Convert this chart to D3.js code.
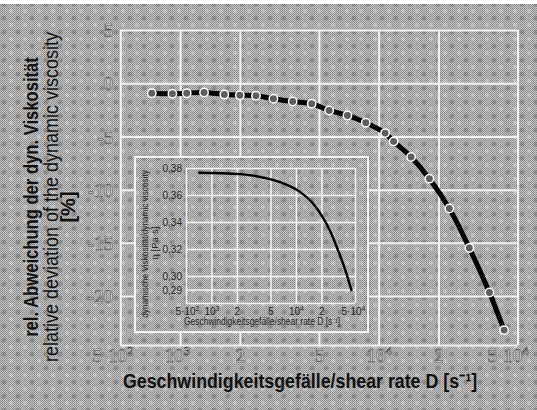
<!DOCTYPE html>
<html><head><meta charset="utf-8">
<script src="https://cdn.jsdelivr.net/npm/d3@7"></script>
<style>html,body{margin:0;padding:0;background:#fff}svg{display:block}</style>
</head><body>
<script>
// ---- data ----
const mainD   = [720, 915, 1080, 1320, 1670, 2000, 2410, 2950, 3690, 4600, 5630, 6960, 8610, 10770, 11890, 14560, 18000, 22700, 28600, 36100, 42800];
const mainDev = [-0.94, -0.99, -0.94, -0.87, -1.06, -1.13, -1.18, -1.46, -1.72, -1.93, -2.56, -3.03, -3.71, -4.69, -5.47, -6.94, -8.97, -11.78, -15.48, -19.66, -23.2];
const insetD   = [700, 2180, 4510, 7080, 11170, 15370, 20190, 25300, 31700, 38100, 45700];
const insetEta = [0.3765, 0.3755, 0.3723, 0.3686, 0.3623, 0.3548, 0.3448, 0.3336, 0.3187, 0.305, 0.2888];
const xTicks   = [500, 1000, 2000, 5000, 10000, 20000, 50000];
const xTickBase = ["5·10", "10", "2", "5", "10", "2", "5·10"];
const xTickSup  = ["2", "3", "", "", "4", "", "4"];
const yTicks   = [5, 0, -5, -10, -15, -20];
const yTickLabels = ["5", "0", "-5", "-10", "-15", "-20"];
const insetYTicks = [0.38, 0.36, 0.34, 0.32, 0.30, 0.29];
const insetYLabels = ["0,38", "0,36", "0,34", "0,32", "0,30", "0,29"];

const W = 537, H = 410;
const svg = d3.select("body").append("svg").attr("width", W).attr("height", H);
const defs = svg.append("defs");

// halftone-like texture
const chk = defs.append("pattern").attr("id", "chk").attr("patternUnits", "userSpaceOnUse")
  .attr("width", 2).attr("height", 2);
chk.append("rect").attr("width", 2).attr("height", 2).attr("fill", "#c4c4c4");
chk.append("rect").attr("width", 1).attr("height", 1).attr("fill", "#878787");
chk.append("rect").attr("x", 1).attr("y", 1).attr("width", 1).attr("height", 1).attr("fill", "#989898");
const blob = defs.append("pattern").attr("id", "blob").attr("patternUnits", "userSpaceOnUse")
  .attr("width", 14).attr("height", 14);
blob.append("circle").attr("cx", 4).attr("cy", 4).attr("r", 2.6).attr("fill", "#555").attr("opacity", 0.35);
blob.append("circle").attr("cx", 11).attr("cy", 11).attr("r", 2.2).attr("fill", "#fff").attr("opacity", 0.25);

function texRect(g, x, y, w, h) {
  g.append("rect").attr("x", x).attr("y", y).attr("width", w).attr("height", h).attr("fill", "url(#chk)");
  g.append("rect").attr("x", x).attr("y", y).attr("width", w).attr("height", h).attr("fill", "url(#blob)");
}
texRect(svg, 0, 0, W, H);
svg.append("rect").attr("x", 0).attr("y", 0).attr("width", W).attr("height", 4).attr("fill", "#fff");

// fit a text horizontally (in its own frame) to a target length by scaling
function fitText(sel, tx, ty, rot, target, anchorMid) {
  const len = sel.node().getComputedTextLength();
  const s = target / len;
  sel.attr("transform", `translate(${tx},${ty}) rotate(${rot}) scale(${s},1)`);
}

// ---- main scales ----
const x = d3.scaleLog().domain([500, 50000]).range([120.3, 517.5]);
const y = d3.scaleLinear().domain([5, -24.6]).range([30, 345]);
const gridCol = "#f2f2f2";

svg.append("g").attr("transform", `translate(0,${y(-24.6)})`)
  .call(d3.axisBottom(x).tickValues(xTicks).tickSize(-(y(-24.6) - y(5))).tickFormat(() => ""))
  .call(g => g.select(".domain").remove())
  .call(g => g.selectAll("line").attr("stroke", gridCol).attr("stroke-width", 2));
svg.append("g").attr("transform", `translate(${x(500)},0)`)
  .call(d3.axisLeft(y).tickValues(yTicks.concat([-24.6])).tickSize(-(x(50000) - x(500))).tickFormat(() => ""))
  .call(g => g.select(".domain").remove())
  .call(g => g.selectAll("line").attr("stroke", gridCol).attr("stroke-width", 2));

// tick labels
const lblStyle = s => s.attr("fill", "#e4e4e4").attr("stroke", "#444").attr("stroke-width", 0.55)
  .attr("font-family", "Liberation Serif, DejaVu Serif, serif").attr("font-size", 19);

const xAx = svg.append("g").attr("transform", `translate(0,362)`)
  .call(d3.axisBottom(x).tickValues(xTicks).tickSize(0).tickFormat(() => ""));
xAx.select(".domain").remove();
xAx.selectAll(".tick text").remove();
xAx.selectAll(".tick").each(function(d, i) {
  const t = d3.select(this).append("text").attr("text-anchor", "middle").attr("y", 0)
    .attr("dx", i === 0 ? -8 : (i === xTicks.length - 1 ? -10 : (i === 1 ? -3 : 0)))
    .call(lblStyle);
  t.append("tspan").text(xTickBase[i]);
  if (xTickSup[i]) t.append("tspan").attr("dy", -7).attr("font-size", 13).text(xTickSup[i]);
});

const yAx = svg.append("g").attr("transform", `translate(113,0)`)
  .call(d3.axisLeft(y).tickValues(yTicks).tickSize(0).tickFormat((d, i) => yTickLabels[i]));
yAx.select(".domain").remove();
yAx.selectAll(".tick text").attr("x", 0).attr("dy", "0.35em").attr("text-anchor", "end").call(lblStyle);

// axis titles
const xt = svg.append("text")
  .attr("font-family", "Liberation Sans Narrow, Liberation Sans, Arial, sans-serif")
  .attr("font-weight", "bold").attr("font-size", 21).attr("fill", "#111")
  .text("Geschwindigkeitsgefälle/shear rate D [s⁻¹]");
fitText(xt, 123, 388, 0, 354);

const yt = svg.append("g").attr("font-family", "Liberation Sans, Arial, sans-serif").attr("fill", "#111")
  .attr("font-size", 20).attr("text-anchor", "middle");
const yt1 = yt.append("text").attr("font-weight", "bold").text("rel. Abweichung der dyn. Viskosität");
fitText(yt1, 38, 197, -90, 280);
const yt2 = yt.append("text").text("relative deviation of the dynamic viscosity");
fitText(yt2, 58, 197, -90, 330);
yt.append("text").attr("transform", "translate(75,207) rotate(-90)").attr("font-weight", "bold").text("[%]");

// ---- inset ----
const ins = svg.append("g");
texRect(ins, 135, 157, 233, 175);
ins.append("rect").attr("x", 135).attr("y", 157).attr("width", 233).attr("height", 175)
  .attr("fill", "none").attr("stroke", gridCol).attr("stroke-width", 2);

const xi = d3.scaleLog().domain([500, 50000]).range([186, 355]);
const yi = d3.scaleLinear().domain([0.28, 0.38]).range([303, 168]);

ins.append("g").attr("transform", `translate(0,${yi(0.28)})`)
  .call(d3.axisBottom(xi).tickValues(xTicks).tickSize(-(yi(0.28) - yi(0.38))).tickFormat(() => ""))
  .call(g => g.select(".domain").remove())
  .call(g => g.selectAll("line").attr("stroke", gridCol).attr("stroke-width", 1.6));
ins.append("g").attr("transform", `translate(${xi(500)},0)`)
  .call(d3.axisLeft(yi).tickValues(insetYTicks.concat([0.28])).tickSize(-(xi(50000) - xi(500))).tickFormat(() => ""))
  .call(g => g.select(".domain").remove())
  .call(g => g.selectAll("line").attr("stroke", gridCol).attr("stroke-width", 1.6));

const smallFont = "Liberation Sans Narrow, Liberation Sans, Arial, sans-serif";
const ixAx = ins.append("g").attr("transform", `translate(0,315)`)
  .call(d3.axisBottom(xi).tickValues(xTicks).tickSize(0).tickFormat(() => ""));
ixAx.select(".domain").remove();
ixAx.selectAll(".tick text").remove();
ixAx.selectAll(".tick").each(function(d, i) {
  const t = d3.select(this).append("text").attr("text-anchor", "middle").attr("y", 0)
    .attr("dx", i === xTicks.length - 1 ? -2 : (i === 0 ? 1 : 0))
    .attr("font-family", smallFont).attr("font-size", 10).attr("fill", "#222");
  t.append("tspan").text(xTickBase[i]);
  if (xTickSup[i]) t.append("tspan").attr("dy", -4).attr("font-size", 7).text(xTickSup[i]);
});
const iyAx = ins.append("g").attr("transform", `translate(182,0)`)
  .call(d3.axisLeft(yi).tickValues(insetYTicks).tickSize(0).tickFormat((d, i) => insetYLabels[i]));
iyAx.select(".domain").remove();
iyAx.selectAll(".tick text").attr("x", 0).attr("dy", "0.35em").attr("text-anchor", "end")
  .attr("font-family", smallFont).attr("font-size", 10).attr("fill", "#222");

const ixt = ins.append("text").attr("font-family", smallFont).attr("font-size", 10).attr("fill", "#222")
  .text("Geschwindigkeitsgefälle/shear rate D [s⁻¹]");
fitText(ixt, 184, 325, 0, 156);
const iyt = ins.append("text").attr("text-anchor", "middle")
  .attr("font-family", smallFont).attr("font-size", 9.5).attr("fill", "#222")
  .text("dynamische Viskosität/dynamic viscosity");
fitText(iyt, 148, 244, -90, 148);
ins.append("text").attr("transform", "translate(158,243) rotate(-90)").attr("text-anchor", "middle")
  .attr("font-family", smallFont).attr("font-size", 9.5).attr("fill", "#222")
  .text("η [Pa·s]");

const insetData = insetD.map((d, i) => [d, insetEta[i]]);
ins.append("path").datum(insetData)
  .attr("d", d3.line().x(d => xi(d[0])).y(d => yi(d[1])).curve(d3.curveMonotoneX))
  .attr("fill", "none").attr("stroke", "#000").attr("stroke-width", 2.4);

// ---- main curve ----
const mainData = mainD.map((d, i) => [d, mainDev[i]]);
svg.append("path").datum(mainData)
  .attr("d", d3.line().x(d => x(d[0])).y(d => y(d[1])).curve(d3.curveCatmullRom))
  .attr("fill", "none").attr("stroke", "#000").attr("stroke-width", 5);
svg.append("g").selectAll("circle").data(mainData).join("circle")
  .attr("cx", d => x(d[0])).attr("cy", d => y(d[1])).attr("r", 4.2)
  .attr("fill", "#5e5e5e").attr("stroke", "#fff").attr("stroke-width", 1.5);
</script>
</body></html>
